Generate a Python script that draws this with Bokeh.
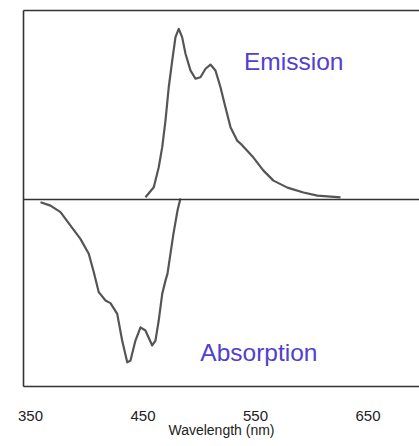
from bokeh.plotting import figure
from bokeh.models import Span, LinearAxis, FixedTicker, Range1d, Label
from bokeh.embed import file_html
from bokeh.resources import INLINE

# Emission spectrum (wavelength nm, relative intensity)
em_wl = [452.2, 459.6, 464.0, 467.1, 470.0, 472.9, 476.0, 478.9, 481.8, 484.8, 487.8, 492.2,
         496.7, 501.1, 505.6, 510.0, 514.4, 518.9, 523.3, 527.8, 533.7, 536.7, 548.2, 557.1,
         566.0, 578.4, 592.7, 605.1, 625.6]
em_val = [0.012, 0.065, 0.171, 0.277, 0.418, 0.594, 0.735, 0.859, 0.903, 0.859, 0.771, 0.683,
          0.639, 0.647, 0.692, 0.714, 0.683, 0.594, 0.488, 0.383, 0.312, 0.296, 0.222, 0.153,
          0.100, 0.063, 0.037, 0.021, 0.011]

# Absorption spectrum (drawn downward)
ab_wl = [358.9, 367.8, 376.7, 385.6, 394.4, 401.8, 406.3, 410.7, 416.7, 421.1, 427.1, 431.5,
         436.0, 438.9, 443.3, 447.8, 452.2, 458.2, 461.1, 464.0, 467.1, 470.0, 471.8, 477.1,
         480.7, 483.3]
ab_val = [-0.014, -0.032, -0.067, -0.138, -0.208, -0.287, -0.385, -0.490, -0.534, -0.548,
          -0.605, -0.746, -0.861, -0.852, -0.746, -0.676, -0.693, -0.772, -0.746, -0.640,
          -0.499, -0.429, -0.392, -0.180, -0.058, 0.005]

tick_values = [350, 450, 550, 650]

p = figure(width=419, height=446, output_backend="svg", toolbar_location=None,
           x_range=Range1d(343.8, 695.8), y_range=Range1d(-0.989, 1.0),
           min_border_left=23, min_border_right=0, min_border_top=10, min_border_bottom=60,
           x_axis_location=None, y_axis_location=None)
p.outline_line_color = None
p.grid.visible = False
p.background_fill_color = "white"
p.border_fill_color = "white"

frame_col = "#333333"

xaxis = LinearAxis(ticker=FixedTicker(ticks=tick_values), axis_label="Wavelength (nm)")
xaxis.axis_line_color = frame_col
xaxis.axis_line_width = 1.6
xaxis.major_tick_line_color = None
xaxis.minor_tick_line_color = None
xaxis.major_label_standoff = 18
xaxis.major_label_text_font = "Liberation Sans"
xaxis.major_label_text_font_size = "15px"
xaxis.major_label_text_color = "#222222"
xaxis.axis_label_text_font = "Liberation Sans"
xaxis.axis_label_text_font_size = "14px"
xaxis.axis_label_text_font_style = "normal"
xaxis.axis_label_text_color = "#222222"
xaxis.axis_label_standoff = -2
p.add_layout(xaxis, "below")

yaxis = LinearAxis(ticker=FixedTicker(ticks=[]))
yaxis.axis_line_color = frame_col
yaxis.axis_line_width = 1.6
yaxis.major_tick_line_color = None
yaxis.minor_tick_line_color = None
p.add_layout(yaxis, "left")

topaxis = LinearAxis(ticker=FixedTicker(ticks=[]))
topaxis.axis_line_color = frame_col
topaxis.axis_line_width = 1.6
topaxis.major_tick_line_color = None
topaxis.minor_tick_line_color = None
p.add_layout(topaxis, "above")

p.add_layout(Span(location=0, dimension="width", line_color=frame_col, line_width=1.6))

p.line(em_wl, em_val, line_color="#555555", line_width=2.2, line_join="round")
p.line(ab_wl, ab_val, line_color="#555555", line_width=2.2, line_join="round")

p.add_layout(Label(x=584, y=0.73, text="Emission", text_font="Liberation Sans",
                   text_font_size="24.5px", text_color="#5040d0", text_align="center",
                   text_baseline="middle"))
p.add_layout(Label(x=553, y=-0.81, text="Absorption", text_font="Liberation Sans",
                   text_font_size="24.5px", text_color="#5040d0", text_align="center",
                   text_baseline="middle"))

open("out.html", "w").write(file_html(p, INLINE))
